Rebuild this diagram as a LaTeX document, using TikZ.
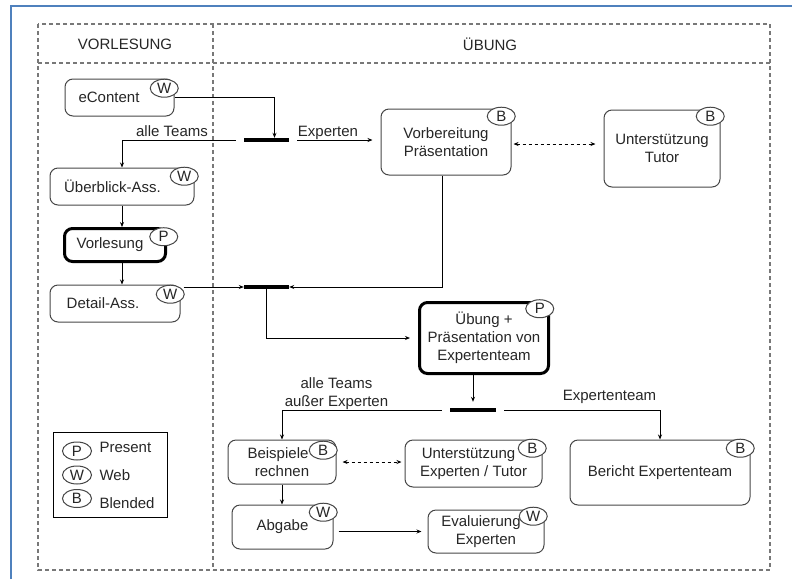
\documentclass[tikz,border=0pt]{standalone}
\usepackage{fontspec}
\setmainfont{Liberation Sans}
\usetikzlibrary{arrows.meta,positioning,shapes.geometric}
\definecolor{framegray}{RGB}{120,120,120}
\definecolor{boxgray}{RGB}{70,70,70}
\definecolor{officeblue}{RGB}{79,129,189}
\tikzset{
  act/.style={draw=boxgray, line width=1pt, rounded corners=8pt, align=center, inner sep=2pt},
  pact/.style={act, draw=black, line width=3pt},
  badge/.style={ellipse, draw=boxgray, fill=white, line width=1pt, minimum width=28pt, minimum height=18pt, inner sep=0pt},
  sync/.style={fill=black, minimum width=45pt, minimum height=4pt, inner sep=0pt},
  flow/.style={line width=0.9pt, -{Stealth[length=5pt,width=4pt]}},
  talk/.style={line width=0.9pt, dashed, {Stealth[length=5pt,width=4pt]}-{Stealth[length=5pt,width=4pt]}},
  lane/.style={framegray, line width=1.2pt, dash pattern=on 4pt off 3pt},
}
\begin{document}
\begin{tikzpicture}[x=1pt, y=-1pt, font=\fontsize{15}{18}\selectfont, text=black!85]
\useasboundingbox (0,0) rectangle (792,579);
% frame and lanes
\draw[officeblue, line width=2.5pt] (11,579) -- (11,6) -- (792,6);
\draw[lane] (38,24) rectangle (770,570);
\draw[lane] (38,63) -- (770,63);
\draw[lane] (213,24) -- (213,570);
\node (hvl) at (125,44) {VORLESUNG};
\node (hue) at (490,44) {ÜBUNG};

% Vorlesung
\node[act, minimum width=109pt, minimum height=37pt] (ec) at (119.5,97.5) {eContent\hspace*{21pt}};
\node[act, minimum width=144pt, minimum height=37pt] (ub) at (122,186.5) {Überblick-Ass.\hspace*{19pt}};
\node[pact, minimum width=101pt, minimum height=33pt] (vl) at (115,245) {Vorlesung\hspace*{10pt}};
\node[act, minimum width=130pt, minimum height=37pt] (da) at (115,303.5) {Detail-Ass.\hspace*{24pt}};

% Uebung
\node[act, minimum width=130pt, minimum height=66pt] (vp) at (446,142) {Vorbereitung\\Präsentation};
\node[act, minimum width=116pt, minimum height=77pt] (ut) at (662,148.5) {Unterstützung\\Tutor};
\node[pact, minimum width=129pt, minimum height=71pt] (ue) at (484,338) {Übung +\\Präsentation von\\Expertenteam};
\node[act, minimum width=108pt, minimum height=44pt] (bs) at (282,462) {Beispiele\hspace*{8pt}\\rechnen};
\node[act, minimum width=137pt, minimum height=47pt] (ux) at (473.5,463.5) {Unterstützung\hspace*{10pt}\\Experten / Tutor};
\node[act, minimum width=180pt, minimum height=65pt] (be) at (660,472.5) {Bericht Expertenteam};
\node[act, minimum width=101pt, minimum height=44pt] (ab) at (282.5,527) {Abgabe};
\node[act, minimum width=116pt, minimum height=43pt] (ev) at (486,531.5) {Evaluierung\hspace*{10pt}\\Experten};

% badges
\node[badge, below left=3pt and 0pt of ec.north east] (ecb) {W};
\node[badge, below left=2pt and 0pt of ub.north east] (ubb) {W};
\node[badge, below left=3pt and -7pt of vl.north east] (vlb) {P};
\node[badge, below left=3pt and 0pt of da.north east] (dab) {W};
\node[badge, below left=1pt and 0pt of vp.north east] (vpb) {B};
\node[badge, below left=0pt and 0pt of ut.north east] (utb) {B};
\node[badge, below left=1pt and 0pt of ue.north east] (ueb) {P};
\node[badge, below left=4pt and 3pt of bs.north east] (bsb) {B};
\node[badge, below left=2pt and 0pt of ux.north east] (uxb) {B};
\node[badge, below left=2pt and 0pt of be.north east] (beb) {B};
\node[badge, below left=1pt and 0pt of ab.north east] (abb) {W};
\node[badge, below left=0pt and 1pt of ev.north east] (evb) {W};

% sync bars
\node[sync] (b1) at (266.5,140) {};
\node[sync] (b2) at (266.5,287) {};
\node[sync, minimum width=46pt] (b3) at (473,410) {};

% labels
\node (lall) at (172,131) {alle Teams};
\node (lexp) at (328,133) {Experten};
\node[align=center] (lrest) at (336.5,394) {alle Teams\\außer Experten};
\node (lteam) at (609.5,397) {Expertenteam};

% flows
\draw[flow] (ec.east) -| ([xshift=8pt]b1.north);
\draw[flow] ([xshift=-8pt]b1.west) -| (ub.north);
\draw[flow, shorten >=8pt] ([xshift=8pt]b1.east) -- (b1.east -| vp.west);
\draw[talk, shorten <=2pt, shorten >=8pt] ([yshift=-2pt]vp.east) -- ([yshift=-2pt]vp.east -| ut.west);
\draw[flow] (ub.south) -- (ub.south |- vl.north);
\draw[flow] (ub.south |- vl.south) -- (ub.south |- da.north);
\draw[flow] ([xshift=-4pt]vp.south) |- (b2.east);
\draw[flow] ([xshift=3pt]da.north east |- b2.west) -- (b2.west);
\draw[flow, shorten >=8pt] (b2.south) |- (ue.west);
\draw[flow, shorten >=6pt] (b3.north |- ue.south) -- (b3.north);
\draw[flow] ([xshift=-8pt]b3.west) -| (bs.north);
\draw[flow] ([xshift=8pt]b3.east) -| (be.north);
\draw[talk, shorten <=6pt, shorten >=3pt] (bs.east) -- (bs.east -| ux.west);
\draw[flow] (bs.south) -- (bs.south |- ab.north);
\draw[flow, shorten <=5pt, shorten >=6pt] (ab.east |- ev.west) -- (ev.west);

% legend
\node[draw=black, line width=1pt, minimum width=114pt, minimum height=85pt] (key) at (110,474.5) {};
\node[badge, minimum width=29pt] (kp) at (77,451) {P};
\node[badge, minimum width=29pt] (kw) at (77,475) {W};
\node[badge, minimum width=29pt] (kb) at (77,498.5) {B};
\node[anchor=west] (kpt) at (96,447) {Present};
\node[anchor=west] (kwt) at (96,475) {Web};
\node[anchor=west] (kbt) at (96,503) {Blended};
\end{tikzpicture}
\end{document}
